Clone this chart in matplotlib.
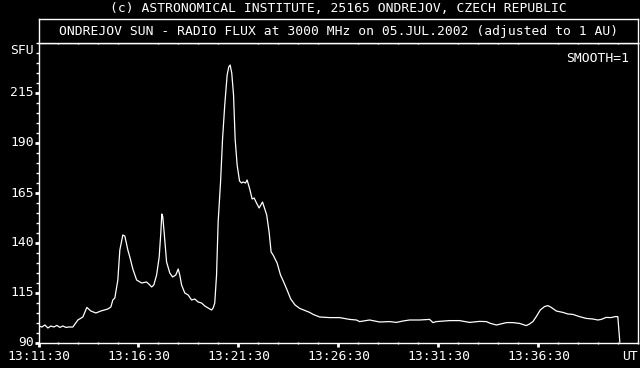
import matplotlib
matplotlib.use("Agg")
import matplotlib.pyplot as plt
from matplotlib.ticker import MultipleLocator, FixedLocator

# minutes after 13:11:30 and flux in SFU
minutes = [0.02, 0.17, 0.32, 0.47, 0.62, 0.77, 0.92, 1.07, 1.22, 1.37, 1.52, 1.72,
           1.97, 2.22, 2.42, 2.62, 2.87, 3.12, 3.47, 3.62, 3.72, 3.82, 3.97, 4.07,
           4.22, 4.32, 4.47, 4.57, 4.72, 4.91, 5.16, 5.41, 5.57, 5.66, 5.77, 5.91,
           6.04, 6.12, 6.17, 6.22, 6.29, 6.41, 6.57, 6.71, 6.87, 6.99, 7.07, 7.16,
           7.32, 7.49, 7.66, 7.82, 7.99, 8.16, 8.32, 8.49, 8.66, 8.74, 8.82, 8.91,
           8.99, 9.11, 9.21, 9.32, 9.44, 9.52, 9.59, 9.67, 9.76, 9.84, 9.94, 10.06,
           10.16, 10.24, 10.36, 10.44, 10.57, 10.69, 10.79, 10.91, 11.04, 11.21,
           11.29, 11.42, 11.54, 11.64, 11.74, 11.94, 12.11, 12.27, 12.44, 12.62,
           12.84, 13.07, 13.39, 13.57, 13.74, 14.07, 14.57, 15.07, 15.57, 15.91,
           16.07, 16.57, 17.07, 17.57, 17.91, 18.24, 18.57, 19.07, 19.57, 19.74,
           19.91, 20.57, 21.07, 21.57, 22.07, 22.41, 22.62, 22.92, 23.42, 23.74,
           24.07, 24.41, 24.57, 24.74, 24.91, 25.11, 25.32, 25.49, 25.66, 25.91,
           26.24, 26.49, 26.74, 27.07, 27.41, 27.74, 27.99, 28.16, 28.41, 28.64,
           28.87, 28.99, 29.04, 29.09]
flux = [98.5, 98.0, 99.0, 97.5, 98.5, 98.0, 98.8, 97.8, 98.5, 97.8, 98.0, 98.0,
        101.5, 103.0, 107.8, 106.0, 105.0, 106.0, 107.0, 108.0, 111.5, 112.5, 121.5, 136.5,
        144.0, 143.5, 136.5, 133.0, 127.0, 121.5, 120.0, 120.5, 119.0, 118.0, 119.0, 124.0,
        133.0, 145.0, 154.5, 153.0, 145.0, 130.5, 125.0, 123.0, 124.0, 127.0, 124.0, 119.0,
        115.0, 114.0, 111.5, 112.0, 110.5, 110.0, 108.5, 107.5, 106.5, 107.5, 110.0, 124.0,
        150.5, 170.5, 192.0, 209.0, 224.0, 228.0, 229.0, 225.0, 214.0, 192.0, 179.0, 171.0,
        170.0, 170.5, 170.0, 171.5, 167.0, 162.0, 162.5, 160.0, 157.5, 160.5,
        158.0, 154.0, 145.5, 135.5, 134.0, 130.0, 124.0, 120.5, 116.5, 112.0,
        109.0, 107.3, 106.0, 105.3, 104.3, 103.0, 102.7, 102.7, 101.8, 101.5,
        100.7, 101.5, 100.5, 100.7, 100.3, 101.0, 101.5, 101.5, 101.8, 100.2,
        100.7, 101.2, 101.2, 100.3, 100.8, 100.7, 99.8, 99.0, 100.2, 100.2,
        99.8, 98.7, 99.5, 100.7, 103.2, 106.5, 108.2, 108.7, 107.8, 106.0,
        105.3, 104.5, 104.3, 103.2, 102.3, 102.0, 101.5, 101.8, 102.8, 102.7,
        103.2, 103.2, 96.5, 90.5]

x_tick_labels = ["13:11:30", "13:16:30", "13:21:30", "13:26:30", "13:31:30", "13:36:30"]
y_ticks = [90, 115, 140, 165, 190, 215]

W, H = 640, 368
fig = plt.figure(figsize=(6.4, 3.68), dpi=100, facecolor="black")
FONT = dict(family="DejaVu Sans Mono", size=9.4, color="white")

x0, x1, ytop, ybot = 38.5, 638.0, 43, 343
ax = fig.add_axes([x0 / W, (H - ybot) / H, (x1 - x0) / W, (ybot - ytop) / H])
ax.set_facecolor("black")
ax.plot(minutes, flux, color="white", lw=0.9)
ax.set_xlim(0, 30)
ax.set_ylim(90, 240)
for s in ax.spines.values():
    s.set_color("white")
    s.set_linewidth(1.0)
ax.xaxis.set_major_locator(FixedLocator([0, 5, 10, 15, 20, 25]))
ax.xaxis.set_minor_locator(MultipleLocator(1))
ax.yaxis.set_major_locator(FixedLocator(y_ticks))
ax.yaxis.set_minor_locator(MultipleLocator(5))
ax.tick_params(axis="both", which="major", direction="out", length=3, width=2,
               color="white", labelcolor="white")
ax.tick_params(axis="both", which="minor", direction="out", length=2, width=1, color="white")
ax.tick_params(axis="x", which="minor", top=True, direction="inout")
ax.set_xticklabels([])
ax.set_yticklabels([])

def px(x, y, s, ha="center", va="center"):
    fig.text(x / W, 1 - y / H, s, ha=ha, va=va, **FONT)

for i, lab in enumerate(x_tick_labels):
    px(x0 + i * 100, 357, lab)
px(638, 357, "UT", ha="right")
for v in y_ticks:
    px(34, ybot - (v - 90) * 2, str(v), ha="right")
px(34, 51, "SFU", ha="right")
px(629, 58, "SMOOTH=1", ha="right")
px(338, 9, "(c) ASTRONOMICAL INSTITUTE, 25165 ONDREJOV, CZECH REPUBLIC")

tb = fig.add_axes([x0 / W, (H - 43) / H, (x1 - x0) / W, 24 / H])
tb.set_facecolor("black")
tb.set_xticks([]); tb.set_yticks([])
for s in tb.spines.values():
    s.set_color("white")
    s.set_linewidth(1.0)
px(339, 31, "ONDREJOV SUN - RADIO FLUX at 3000 MHz on 05.JUL.2002 (adjusted to 1 AU)")

fig.savefig("out.png", dpi=100, facecolor="black")
